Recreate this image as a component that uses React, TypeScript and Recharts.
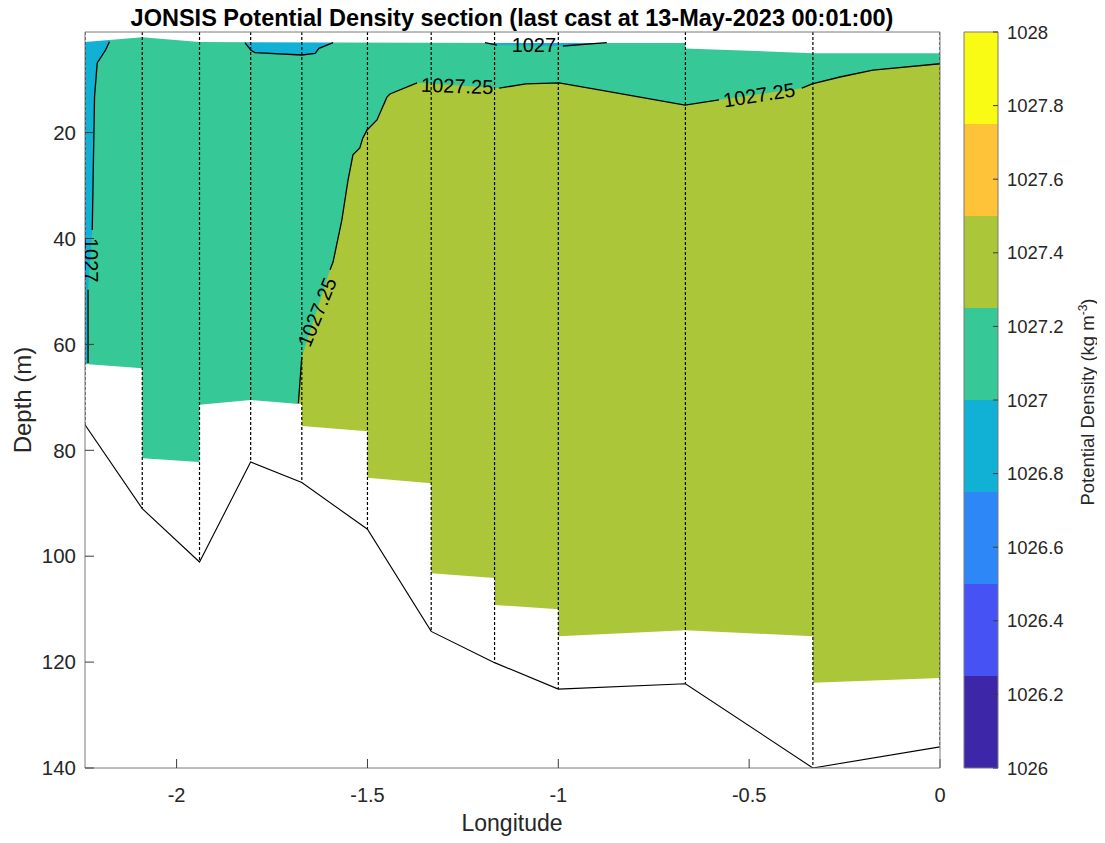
import React from 'react';
import { ComposedChart, Area, Line, Scatter, XAxis, YAxis } from 'recharts';

const FONT = '"Liberation Sans", Arial, Helvetica, sans-serif';

// ---------- data ----------
// cast stations (longitude) and seafloor depth (m) at each station
const stationLon = [-2.24, -2.09, -1.94, -1.806, -1.672, -1.5, -1.333, -1.167, -1, -0.667, -0.333, 0];
const seafloorDepth = [75.2, 91.0, 101.1, 82.2, 86.1, 94.9, 114.2, 120.1, 125.1, 124.1, 140, 136.0];

// deepest gridded density (lower edge of coloured section): [lon, depth]
const dataBottom: [number, number][] = [
  [-2.24, 63.7], [-2.09, 64.5], [-2.09, 81.5], [-1.94, 82.2], [-1.94, 71.4], [-1.806, 70.5],
  [-1.672, 71.3], [-1.672, 75.4], [-1.5, 76.4], [-1.5, 85.2], [-1.333, 86.2], [-1.333, 103.2],
  [-1.167, 104.1], [-1.167, 109.2], [-1, 110.0], [-1, 115.1], [-0.667, 114.0], [-0.333, 115.1],
  [-0.333, 123.9], [0, 123.0],
];
// shallowest gridded density (upper edge of coloured section)
const dataSurface: [number, number][] = [
  [-2.24, 2.9], [-2.09, 2.0], [-1.94, 2.9], [-1, 3.1], [-0.667, 3.1], [-0.667, 4.1], [-0.333, 5.0], [0, 5.0],
];

// 1027 contour, western strip (two pieces split by the label)
const contour1027Strip: [number, number][][] = [
  [[-2.176, 2.83], [-2.186, 4.4], [-2.208, 6.85], [-2.215, 13.2], [-2.218, 25.7], [-2.221, 38.4]],
  [[-2.232, 49.7], [-2.232, 63.5]],
];
// 1027 contour, shallow pools
const contour1027Pool1: [number, number][] = [
  [-1.821, 3.02], [-1.806, 4.4], [-1.795, 4.9], [-1.672, 5.34], [-1.637, 5.02], [-1.627, 4.08], [-1.59, 3.02],
];
const contour1027Pool2: [number, number][][] = [
  [[-1.192, 3.02], [-1.161, 3.46]],
  [[-0.988, 3.64], [-0.873, 3.02]],
];
// 1027.25 contour (pieces split by labels)
const contour102725: [number, number][][] = [
  [[-1.681, 71.1], [-1.672, 62.4]],
  [[-1.598, 45.9], [-1.59, 44.4], [-1.567, 36.5], [-1.551, 29.0], [-1.538, 24.2], [-1.52, 22.9],
   [-1.512, 21.0], [-1.501, 19.5], [-1.475, 17.6], [-1.449, 13.3], [-1.441, 12.7], [-1.37, 10.6]],
  [[-1.155, 11.6], [-1.085, 10.8], [-0.998, 10.6], [-0.893, 11.95], [-0.786, 13.3], [-0.668, 14.8], [-0.579, 13.8]],
  [[-0.362, 11.6], [-0.335, 10.8], [-0.262, 9.5], [-0.176, 8.2], [0, 7.0]],
];
const contourLabelText = ['1027', '1027.25', '1027.25', '1027.25', '1027'];
const contourLabelLon = [-2.224, -1.632, -1.265, -0.474, -1.064];
const contourLabelDepth = [44.1, 53.9, 11.2, 12.9, 3.46];
const contourLabelAngle = [90, -68, 2, -9, 0];

const xDomain: [number, number] = [-2.24, 0];
const yDomain: [number, number] = [1, 140];
const xTicks = [-2, -1.5, -1, -0.5, 0];
const yTicks = [20, 40, 60, 80, 100, 120, 140];

// colour bar
const cbLevels = [1026, 1026.25, 1026.5, 1026.75, 1027, 1027.25, 1027.5, 1027.75, 1028];
const cbColors = ['#3e26a8', '#4752f4', '#2d87f7', '#11b1d6', '#37c897', '#abc739', '#fec338', '#f9fb15'];
const cbTicks = [1026, 1026.2, 1026.4, 1026.6, 1026.8, 1027, 1027.2, 1027.4, 1027.6, 1027.8, 1028];

// ---------- styling ----------
const AXIS = '#7a7a7a';
const TICK = '#3a3a3a';
const TEXT = '#262626';
const CYAN = cbColors[3];
const GREEN = cbColors[4];
const OLIVE = cbColors[5];

const pts = (p: [number, number][]) => p.map(([lon, depth]) => ({ lon, depth }));
const rangeDown = (p: [number, number][]) => p.map(([lon, d]) => ({ lon, range: [d, yDomain[1]] }));
const rangeUp = (p: [number, number][]) => p.map(([lon, d]) => ({ lon, range: [yDomain[0], d] }));

const renderLabel = (props: any) => {
  const { cx, cy, payload } = props;
  if (cx == null || cy == null) return <g />;
  return (
    <text
      x={cx}
      y={cy}
      transform={`rotate(${payload.angle} ${cx} ${cy})`}
      textAnchor="middle"
      dominantBaseline="central"
      fontSize={20}
      fontFamily={FONT}
      fill="#000"
    >
      {payload.text}
    </text>
  );
};

export default function App() {
  const fullRows = [
    { lon: xDomain[0], range: [yDomain[0], yDomain[1]] },
    { lon: xDomain[1], range: [yDomain[0], yDomain[1]] },
  ];
  const oliveRows = rangeDown(contour102725.flat() as [number, number][]);
  const stripRows = rangeUp([[-2.24, 63.7], [-2.232, 63.5], ...contour1027Strip[1].slice().reverse(), ...contour1027Strip[0].slice().reverse()] as [number, number][]);
  const pool1Rows = rangeUp(contour1027Pool1);
  const pool2Rows = rangeUp(contour1027Pool2.flat() as [number, number][]);
  const topRows = rangeUp(dataSurface);
  const bottomRows = rangeDown(dataBottom);
  const labelRows = contourLabelText.map((text, i) => ({
    lon: contourLabelLon[i], depth: contourLabelDepth[i], angle: contourLabelAngle[i], text,
  }));

  const areaCommon = {
    type: 'linear' as const,
    dataKey: 'range',
    stroke: 'none',
    fillOpacity: 1,
    isAnimationActive: false,
    dot: false,
    activeDot: false,
  };
  const lineCommon = {
    type: 'linear' as const,
    dataKey: 'depth',
    stroke: '#000',
    strokeWidth: 1.3,
    dot: false,
    activeDot: false,
    isAnimationActive: false,
    connectNulls: false,
  };

  const cbRows = cbColors.map((_, i) => [
    { x: 0, range: [cbLevels[i], cbLevels[i + 1]] },
    { x: 1, range: [cbLevels[i], cbLevels[i + 1]] },
  ]);

  return (
    <div style={{ position: 'relative', width: 1097, height: 835, fontFamily: FONT, color: TEXT }}>
      <ComposedChart width={1097} height={835} margin={{ top: 23, right: 164, bottom: 35, left: 0 }}>
        <XAxis
          dataKey="lon" type="number" domain={xDomain} ticks={xTicks} interval={0} allowDataOverflow
          height={40} tickSize={-9} tickMargin={29}
          axisLine={{ stroke: AXIS }} tickLine={{ stroke: TICK }}
          tick={{ fontSize: 20, fill: TEXT, fontFamily: FONT }}
        />
        <XAxis
          xAxisId="top" orientation="top" dataKey="lon" type="number" domain={xDomain} ticks={xTicks}
          interval={0} allowDataOverflow height={1} tickSize={-9} tick={false}
          axisLine={{ stroke: AXIS }} tickLine={{ stroke: TICK }}
        />
        <YAxis
          type="number" domain={yDomain} reversed ticks={yTicks} interval={0} allowDataOverflow
          width={77} tickSize={-9} tickMargin={18}
          axisLine={{ stroke: AXIS }} tickLine={{ stroke: TICK }}
          tick={{ fontSize: 20.5, fill: TEXT, fontFamily: FONT }}
        />
        <YAxis
          yAxisId="right" orientation="right" type="number" domain={yDomain} reversed ticks={yTicks}
          interval={0} allowDataOverflow width={1} tickSize={-9} tick={false}
          axisLine={{ stroke: AXIS }} tickLine={{ stroke: TICK }}
        />

        <Area {...areaCommon} data={fullRows} fill={GREEN} />
        <Area {...areaCommon} data={oliveRows} fill={OLIVE} />
        <Area {...areaCommon} data={stripRows} fill={CYAN} />
        <Area {...areaCommon} data={pool1Rows} fill={CYAN} />
        <Area {...areaCommon} data={pool2Rows} fill={CYAN} />
        <Area {...areaCommon} data={topRows} fill="#ffffff" />
        <Area {...areaCommon} data={bottomRows} fill="#ffffff" />

        {contour102725.map((seg, i) => (
          <Line key={`c25-${i}`} {...lineCommon} data={pts(seg)} />
        ))}
        {contour1027Strip.map((seg, i) => (
          <Line key={`cs-${i}`} {...lineCommon} data={pts(seg)} />
        ))}
        <Line {...lineCommon} data={pts(contour1027Pool1)} />
        {contour1027Pool2.map((seg, i) => (
          <Line key={`cp-${i}`} {...lineCommon} data={pts(seg)} />
        ))}
        <Line {...lineCommon} strokeWidth={1.1} data={stationLon.map((lon, i) => ({ lon, depth: seafloorDepth[i] }))} />
        {stationLon.map((lon, i) => (
          <Line
            key={`st-${i}`} {...lineCommon} strokeWidth={1.2} strokeDasharray="3 2"
            data={[{ lon, depth: yDomain[0] }, { lon, depth: seafloorDepth[i] }]}
          />
        ))}
        <Scatter data={labelRows} dataKey="depth" shape={renderLabel} isAnimationActive={false} />
      </ComposedChart>

      {/* colour bar */}
      <div style={{ position: 'absolute', left: 955, top: 0 }}>
        <ComposedChart width={142} height={835} margin={{ top: 23, right: 47, bottom: 74, left: 0 }}>
          <XAxis dataKey="x" type="number" domain={[0, 1]} allowDataOverflow height={1} tick={false} tickLine={false}
            axisLine={{ stroke: AXIS }} />
          <XAxis xAxisId="top" orientation="top" dataKey="x" type="number" domain={[0, 1]} allowDataOverflow height={1}
            tick={false} tickLine={false} axisLine={{ stroke: AXIS }} />
          <YAxis yAxisId="l" orientation="left" type="number" domain={[1026, 1028]} allowDataOverflow width={1}
            tick={false} tickLine={false} axisLine={{ stroke: AXIS }} />
          <YAxis yAxisId="r" orientation="right" type="number" domain={[1026, 1028]} ticks={cbTicks} interval={0}
            allowDataOverflow width={60} tickSize={-5} tickMargin={14}
            axisLine={{ stroke: AXIS }} tickLine={{ stroke: TICK }}
            tick={{ fontSize: 18.5, fill: TEXT, fontFamily: FONT, textAnchor: 'start' }} />
          {cbRows.map((rows, i) => (
            <Area key={`cb-${i}`} {...areaCommon} yAxisId="r" data={rows} fill={cbColors[i]} />
          ))}
        </ComposedChart>
      </div>

      {/* title and axis labels */}
      <div style={{ position: 'absolute', left: 504, top: 11, transform: 'translate(-50%, -50%)', whiteSpace: 'nowrap',
        fontSize: 23.5, fontWeight: 'bold', lineHeight: 1, color: '#000' }}>
        JONSIS Potential Density section (last cast at 13-May-2023 00:01:00)
      </div>
      <div style={{ position: 'absolute', left: 504, top: 815, transform: 'translate(-50%, -50%)', whiteSpace: 'nowrap',
        fontSize: 23, lineHeight: 1 }}>
        Longitude
      </div>
      <div style={{ position: 'absolute', left: 15, top: 392, transform: 'translate(-50%, -50%) rotate(-90deg)',
        whiteSpace: 'nowrap', fontSize: 24, lineHeight: 1 }}>
        Depth (m)
      </div>
      <div style={{ position: 'absolute', left: 1079, top: 394, transform: 'translate(-50%, -50%) rotate(-90deg)',
        whiteSpace: 'nowrap', fontSize: 18.5, lineHeight: 1 }}>
        Potential Density (kg m<sup style={{ fontSize: 12 }}>-3</sup>)
      </div>
    </div>
  );
}
